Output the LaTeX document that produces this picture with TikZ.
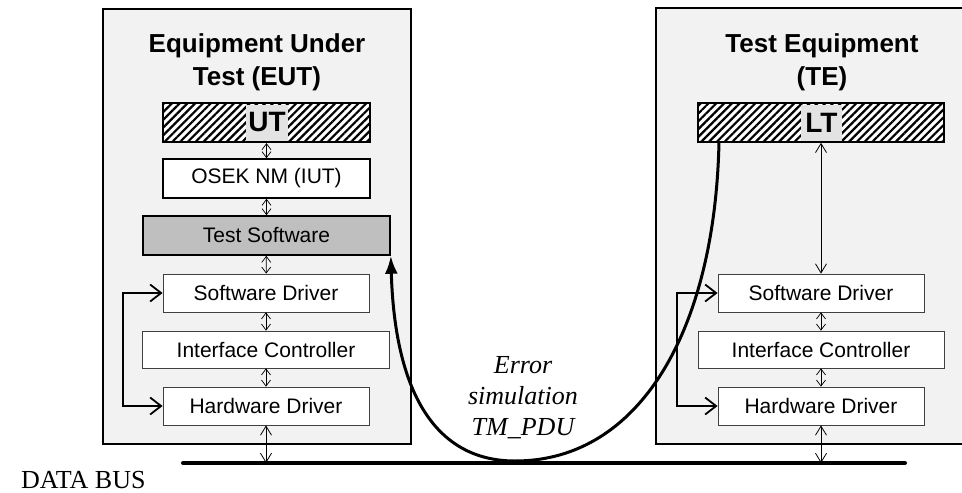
\documentclass[tikz,border=0pt]{standalone}
\usepackage{fontspec}
\setmainfont{Liberation Serif}
\setsansfont{Liberation Sans}
\usetikzlibrary{positioning}
\usetikzlibrary{arrows.meta}
\usetikzlibrary{patterns.meta}

\begin{document}
\begin{tikzpicture}[
    x=1pt,y=-1pt,
    panel/.style={draw,line width=1.6pt,fill=gray!10,inner sep=0pt},
    headline/.style={font=\sffamily\bfseries\fontsize{26}{33}\selectfont,align=center,inner sep=0pt},
    layer/.style={draw=black!75,line width=0.8pt,fill=white,inner sep=0pt,
      font=\sffamily\fontsize{21}{25}\selectfont},
    strong/.style={layer,draw=black,line width=1.6pt},
    hatched/.style={draw,line width=1.6pt,inner sep=0pt,minimum height=39pt,
      preaction={fill=white},pattern={Lines[angle=45,distance=5.5pt,line width=2.2pt]}},
    tag/.style={fill=gray!22,inner sep=0pt,minimum height=36pt,
      font=\sffamily\bfseries\fontsize{28}{30}\selectfont},
    link/.style={{Straight Barb[length=6pt,width=9pt]}-{Straight Barb[length=6pt,width=9pt]},line width=0.7pt},
    buslink/.style={{Straight Barb[length=9pt,width=11pt]}-{Straight Barb[length=9pt,width=11pt]},line width=0.8pt},
    feedback/.style={{Straight Barb[length=11pt,width=17pt,line width=1.8pt]}-{Straight Barb[length=11pt,width=17pt,line width=1.8pt]},line width=1.8pt},
    errcurve/.style={-{Latex[length=18pt,width=13pt]},line width=3pt},
    bus/.style={line width=4pt,line cap=round}
  ]
  \clip (0,0) rectangle (962,493);

  % panels
  \node[panel,minimum width=308pt,minimum height=435pt] (eut) at (257,226.5) {};
  \node[panel,minimum width=334pt,minimum height=436pt] (te) at (823,226) {};
  \node[headline] (euttitle) at (257,62) {Equipment Under\\Test (EUT)};
  \node[headline] (tetitle) at (822,62) {Test Equipment\\(TE)};

  % EUT stack
  \node[hatched,minimum width=207pt] (ut) at (266.5,122.5) {};
  \node[tag,minimum width=42pt] (uttag) at (267,122.5) {UT};
  \node[strong,minimum width=207pt,minimum height=39pt] (osek) at (266.5,178.5) {OSEK NM (IUT)};
  \node[strong,fill=black!25,minimum width=247pt,minimum height=39pt] (tsw) at (266.5,235.5) {Test Software};
  \node[layer,minimum width=206pt,minimum height=38pt] (swl) at (266,293) {Software Driver};
  \node[layer,minimum width=247pt,minimum height=37pt] (icl) at (266,349.5) {Interface Controller};
  \node[layer,minimum width=206pt,minimum height=38pt] (hwl) at (266,406) {Hardware Driver};

  % TE stack
  \node[hatched,minimum width=246pt] (lt) at (821,122.5) {};
  \node[tag,minimum width=41pt] (lttag) at (821.5,122.5) {LT};
  \node[layer,minimum width=206pt,minimum height=38pt] (swr) at (821,293) {Software Driver};
  \node[layer,minimum width=246pt,minimum height=37pt] (icr) at (821,349.5) {Interface Controller};
  \node[layer,minimum width=206pt,minimum height=38pt] (hwr) at (821,406) {Hardware Driver};

  % bus
  \coordinate (busL) at (183,463);
  \coordinate (busR) at (905,463);
  \draw[bus] (busL) -- (busR);
  \node[anchor=base west,inner sep=0pt,font=\fontsize{26}{30}\selectfont] (databus) at (21,488) {DATA BUS};

  % links
  \draw[link] (ut) -- (osek);
  \draw[link] (osek) -- (tsw);
  \draw[link] (tsw) -- (swl);
  \draw[link] (swl) -- (icl);
  \draw[link] (icl) -- (hwl);
  \draw[link] (swr) -- (icr);
  \draw[link] (icr) -- (hwr);
  \draw[buslink] (lt.south) -- (swr);
  \draw[buslink] (hwl) -- (hwl |- busL);
  \draw[buslink] (hwr) -- (hwr |- busL);

  \draw[feedback] (swl.west) -- ++(-40,0) |- (hwl.west);
  \draw[feedback] (swr.west) -- ++(-41,0) |- (hwr.west);

  % error simulation
  \coordinate (errstart) at (719,142);
  \coordinate (errlow) at (515,461);
  \draw[errcurve] (errstart) .. controls (715,330) and (640,461) .. (errlow)
    .. controls (440,461) and (395,400) .. (tsw.south east);
  \node[align=center,inner sep=0pt,font=\itshape\fontsize{26}{31}\selectfont] (err) at (523,398)
    {Error\\simulation\\TM\_PDU};
\end{tikzpicture}
\end{document}
